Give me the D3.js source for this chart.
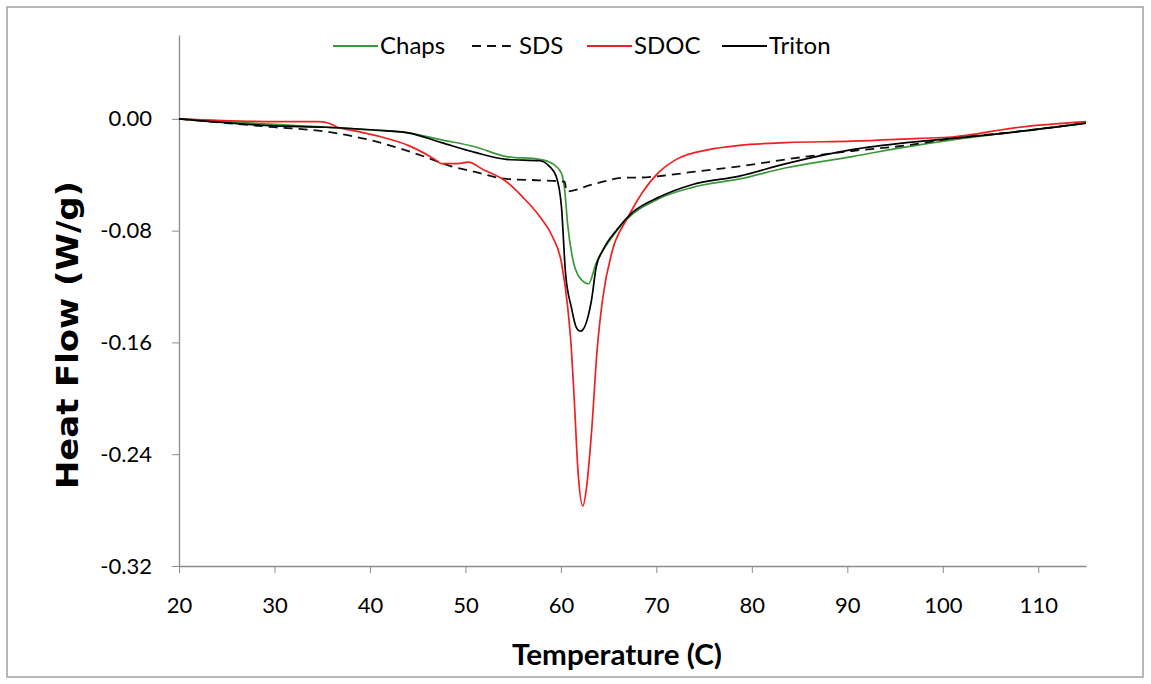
<!DOCTYPE html>
<html>
<head>
    <title>Heat Flow vs Temperature</title>
    <script src="https://d3js.org/d3.v7.min.js"></script>
    <style>
        body { margin: 0; background: white; }
        text { font-family: Lato, "Open Sans", sans-serif; }
    </style>
</head>
<body>
    <div id="chart"></div>

    <script>
        // Data (temperature in C, heat flow in W/g)
        const chapsT  = [20, 30, 40, 44, 47.5, 51, 54.3, 57.8, 59.1, 60.06, 60.4, 60.7, 61.2, 61.9, 62.9, 63.7, 65.1, 66.9, 70.3, 73.8, 78.7, 83.6, 90.5, 96.2, 101, 108, 115];
        const chapsHF = [0, -0.004, -0.008, -0.010, -0.015, -0.020, -0.027, -0.029, -0.032, -0.039, -0.051, -0.075, -0.099, -0.113, -0.118, -0.103, -0.087, -0.072, -0.057, -0.049, -0.043, -0.035, -0.027, -0.020, -0.015, -0.009, -0.003];

        const sdsT  = [20, 30, 35.3, 40.5, 45.7, 48.5, 51, 54.3, 57.8, 60.4, 60.6, 63.3, 66.9, 68.2, 70.3, 73.8, 78.7, 83.6, 90.5, 96.2, 101, 108, 115];
        const sdsHF = [0, -0.006, -0.009, -0.016, -0.027, -0.034, -0.038, -0.043, -0.044, -0.045, -0.052, -0.047, -0.042, -0.042, -0.041, -0.038, -0.034, -0.029, -0.023, -0.019, -0.014, -0.009, -0.003];

        const sdocT  = [20, 30, 34.5, 35.6, 36.6, 38.7, 41.2, 44, 46.8, 47.5, 49.2, 50.3, 51.8, 54.3, 56, 57.8, 59.1, 60.06, 60.7, 61.1, 61.4, 61.8, 62.3, 62.7, 63.2, 63.8, 64.35, 65.4, 66.9, 68.5, 70.3, 72.1, 75.5, 78.7, 83.6, 90.5, 97.5, 101, 108, 115];
        const sdocHF = [0, -0.002, -0.002, -0.003, -0.006, -0.009, -0.013, -0.019, -0.029, -0.032, -0.032, -0.031, -0.036, -0.045, -0.056, -0.070, -0.084, -0.103, -0.134, -0.165, -0.201, -0.253, -0.277, -0.263, -0.225, -0.165, -0.130, -0.094, -0.072, -0.053, -0.038, -0.029, -0.022, -0.019, -0.017, -0.016, -0.014, -0.013, -0.006, -0.002];

        const tritonT  = [20, 30, 35.3, 40.5, 44, 47.5, 51, 54.3, 57.8, 58.8, 59.5, 60.06, 60.48, 61.1, 61.6, 62.05, 63.2, 63.7, 64.4, 65.9, 67.5, 70.3, 73.8, 78.7, 83.6, 90.5, 96.2, 101, 108, 115];
        const tritonHF = [0, -0.005, -0.006, -0.008, -0.010, -0.017, -0.024, -0.029, -0.030, -0.034, -0.041, -0.063, -0.110, -0.135, -0.149, -0.152, -0.130, -0.106, -0.094, -0.079, -0.067, -0.056, -0.047, -0.041, -0.032, -0.022, -0.017, -0.014, -0.009, -0.003];

        const seriesNames = ["Chaps", "SDS", "SDOC", "Triton"];
        const xTicks = [20, 30, 40, 50, 60, 70, 80, 90, 100, 110];
        const yTicks = [0, -0.08, -0.16, -0.24, -0.32];

        const width = 1151, height = 684;
        const plot = { left: 179, right: 1086, top: 35, bottom: 566 };

        const series = [
            { name: seriesNames[0], t: chapsT,  hf: chapsHF,  color: "#3a9a3a", dash: null },
            { name: seriesNames[1], t: sdsT,    hf: sdsHF,    color: "#111",    dash: "9,6" },
            { name: seriesNames[2], t: sdocT,   hf: sdocHF,   color: "#f02020", dash: null },
            { name: seriesNames[3], t: tritonT, hf: tritonHF, color: "#000",    dash: null }
        ];

        const svg = d3.select("#chart")
            .append("svg")
            .attr("width", width)
            .attr("height", height);

        // outer frame
        svg.append("rect")
            .attr("x", 7).attr("y", 7)
            .attr("width", 1136).attr("height", 670)
            .attr("fill", "white")
            .attr("stroke", "#a0a0a0")
            .attr("stroke-width", 1.5);

        const x = d3.scaleLinear().domain([20, 115]).range([plot.left, plot.right]);
        const y = d3.scaleLinear().domain([-0.32, 0.06]).range([plot.bottom, plot.top]);

        // x axis
        const xAxis = svg.append("g")
            .attr("transform", `translate(0,${plot.bottom})`)
            .call(d3.axisBottom(x).tickValues(xTicks).tickSize(7).tickSizeOuter(0).tickPadding(24));
        xAxis.select(".domain").attr("stroke", "#8c8c8c").attr("stroke-width", 1.3);
        xAxis.selectAll(".tick line").attr("stroke", "#8c8c8c");
        xAxis.selectAll("text")
            .style("font-size", "22px")
            .style("font-family", "Lato, sans-serif")
            .attr("fill", "#000");

        // y axis
        const yAxis = svg.append("g")
            .attr("transform", `translate(${plot.left},0)`)
            .call(d3.axisLeft(y).tickValues(yTicks).tickSize(7).tickSizeOuter(0).tickPadding(20)
                .tickFormat(d3.format(".2f")));
        yAxis.select(".domain").attr("stroke", "#8c8c8c").attr("stroke-width", 1.3);
        yAxis.selectAll(".tick line").attr("stroke", "#8c8c8c");
        yAxis.selectAll("text")
            .style("font-size", "22px")
            .style("font-family", "Lato, sans-serif")
            .attr("fill", "#000")
            .text(d => d3.format(".2f")(d).replace("−", "-"));

        // lines
        const line = d3.line()
            .x(d => x(d[0]))
            .y(d => y(d[1]))
            .curve(d3.curveMonotoneX);

        svg.selectAll(".trace")
            .data(series)
            .enter()
            .append("path")
            .attr("class", "trace")
            .attr("d", s => line(s.t.map((t, i) => [t, s.hf[i]])))
            .attr("fill", "none")
            .attr("stroke", s => s.color)
            .attr("stroke-width", s => s.dash ? 1.8 : 1.7)
            .attr("stroke-dasharray", s => s.dash);

        // axis titles
        svg.append("text")
            .attr("x", 617).attr("y", 665)
            .attr("text-anchor", "middle")
            .attr("textLength", 210)
            .attr("lengthAdjust", "spacingAndGlyphs")
            .style("font-size", "29px")
            .style("font-weight", "bold")
            .text("Temperature (C)");

        svg.append("text")
            .attr("transform", "translate(78,335) rotate(-90)")
            .attr("text-anchor", "middle")
            .attr("textLength", 308)
            .attr("lengthAdjust", "spacingAndGlyphs")
            .style("font-size", "30px")
            .style("font-weight", "bold")
            .style("font-family", "'DejaVu Sans', Verdana, sans-serif")
            .text("Heat Flow (W/g)");

        // legend
        const legendX = [333, 472, 587, 722];
        const legend = svg.selectAll(".legend-item")
            .data(series)
            .enter()
            .append("g")
            .attr("class", "legend-item")
            .attr("transform", (d, i) => `translate(${legendX[i]},46)`);

        legend.append("line")
            .attr("x1", 0).attr("x2", 45)
            .attr("stroke", d => d.color)
            .attr("stroke-width", 1.8)
            .attr("stroke-dasharray", d => d.dash);

        legend.append("text")
            .attr("x", 47)
            .attr("dy", "0.35em")
            .style("font-size", "24px")
            .text(d => d.name);
    </script>
</body>
</html>
